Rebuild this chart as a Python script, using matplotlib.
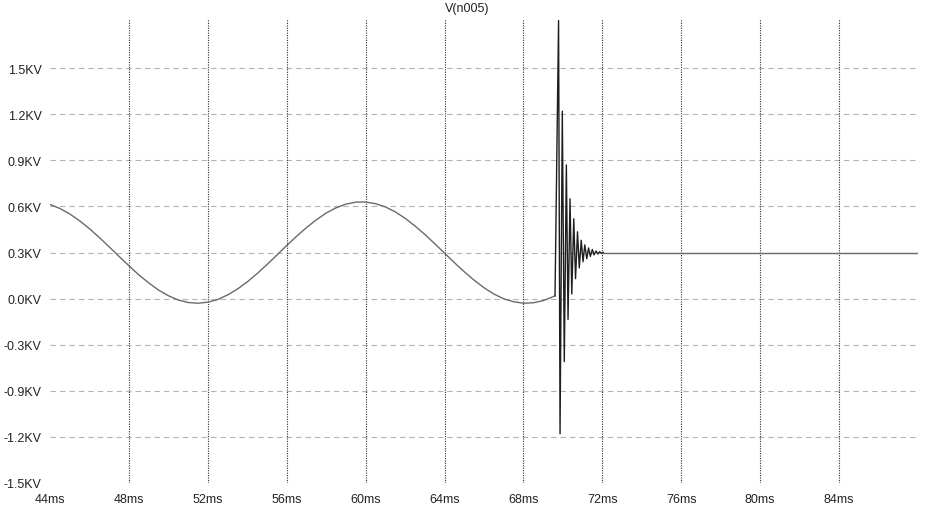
import matplotlib
matplotlib.use("Agg")
import matplotlib.pyplot as plt

plt.rcParams['font.family'] = ['Liberation Sans', 'DejaVu Sans']

# trace V(n005), time in ms, voltage in kV
t_sine = [44.0, 44.5, 45.0, 45.5, 46.0, 46.5, 47.0, 47.5, 48.0, 48.5,
          49.0, 49.5, 50.0, 50.5, 51.0, 51.5, 52.0, 52.5, 53.0, 53.5,
          54.0, 54.5, 55.0, 55.5, 56.0, 56.5, 57.0, 57.5, 58.0, 58.5,
          59.0, 59.5, 60.0, 60.5, 61.0, 61.5, 62.0, 62.5, 63.0, 63.5,
          64.0, 64.5, 65.0, 65.5, 66.0, 66.5, 67.0, 67.5, 68.0, 68.5,
          69.0, 69.5, 69.6]
v_sine = [0.613, 0.587, 0.551, 0.507, 0.455, 0.398, 0.337, 0.275, 0.214, 0.155,
          0.103, 0.056, 0.019, -0.009, -0.025, -0.030, -0.023, -0.006, 0.024, 0.062,
          0.109, 0.163, 0.222, 0.283, 0.346, 0.406, 0.462, 0.513, 0.557, 0.591,
          0.615, 0.628, 0.629, 0.618, 0.597, 0.565, 0.523, 0.473, 0.418, 0.358,
          0.296, 0.234, 0.175, 0.120, 0.071, 0.030, -0.001, -0.020, -0.030, -0.027,
          -0.013, 0.012, 0.018]

# ringing after the switching event
t_ring = [69.6, 69.78, 69.855, 69.97, 70.07, 70.175, 70.26, 70.36, 70.45, 70.55,
          70.64, 70.74, 70.83, 70.93, 71.02, 71.11, 71.21, 71.30, 71.39, 71.49,
          71.58, 71.68, 71.77, 71.86, 71.96, 72.05]
v_ring = [0.018, 1.81, -0.88, 1.22, -0.41, 0.87, -0.135, 0.65, 0.03, 0.52,
          0.13, 0.435, 0.20, 0.38, 0.24, 0.35, 0.26, 0.33, 0.275, 0.32,
          0.285, 0.31, 0.29, 0.305, 0.295, 0.30]

# settled level
t_flat = [72.05, 88.0]
v_flat = [0.30, 0.30]

x_ticks = [44, 48, 52, 56, 60, 64, 68, 72, 76, 80, 84]
x_labels = ["44ms", "48ms", "52ms", "56ms", "60ms", "64ms", "68ms", "72ms",
            "76ms", "80ms", "84ms"]
y_ticks = [-1.2, -0.9, -0.6, -0.3, 0.0, 0.3, 0.6, 0.9, 1.2, 1.5]
y_labels = ["-1.5KV", "-1.2KV", "-0.9KV", "-0.3KV", "0.0KV", "0.3KV",
            "0.6KV", "0.9KV", "1.2KV", "1.5KV"]

fig = plt.figure(figsize=(9.29, 5.10), dpi=100)
ax = fig.add_axes([50/929, 1-484/510, 868/929, 464/510])

# grid
ax.hlines(y_ticks[1:], 44, 88, colors='#b4b4b4', linewidth=0.8,
          linestyles=(0, (5, 3.5)), zorder=1)
ax.vlines(x_ticks[1:], -1.2, 1.82, colors='#303030', linewidth=0.8,
          linestyles=(0, (1, 1.2)), zorder=1)

ax.plot(t_sine, v_sine, color='#6a6a6a', linewidth=1.0, zorder=3)
ax.plot(t_ring, v_ring, color='#1e1e1e', linewidth=1.0, zorder=3)
ax.plot(t_flat, v_flat, color='#6a6a6a', linewidth=1.0, zorder=3)

ax.set_xlim(44, 88)
ax.set_ylim(-1.2, 1.82)
ax.set_xticks(x_ticks)
ax.set_xticklabels(x_labels)
ax.set_yticks(y_ticks)
ax.set_yticklabels(y_labels)
ax.tick_params(length=0, labelsize=9, colors='#222222')
ax.tick_params(axis='x', pad=7)
ax.tick_params(axis='y', pad=6)
for s in ax.spines.values():
    s.set_visible(False)

fig.text(467/929, 1-9/510, "V(n005)", ha='center', va='center',
         fontsize=9, color='#222222')

fig.savefig("out.png", dpi=100)
